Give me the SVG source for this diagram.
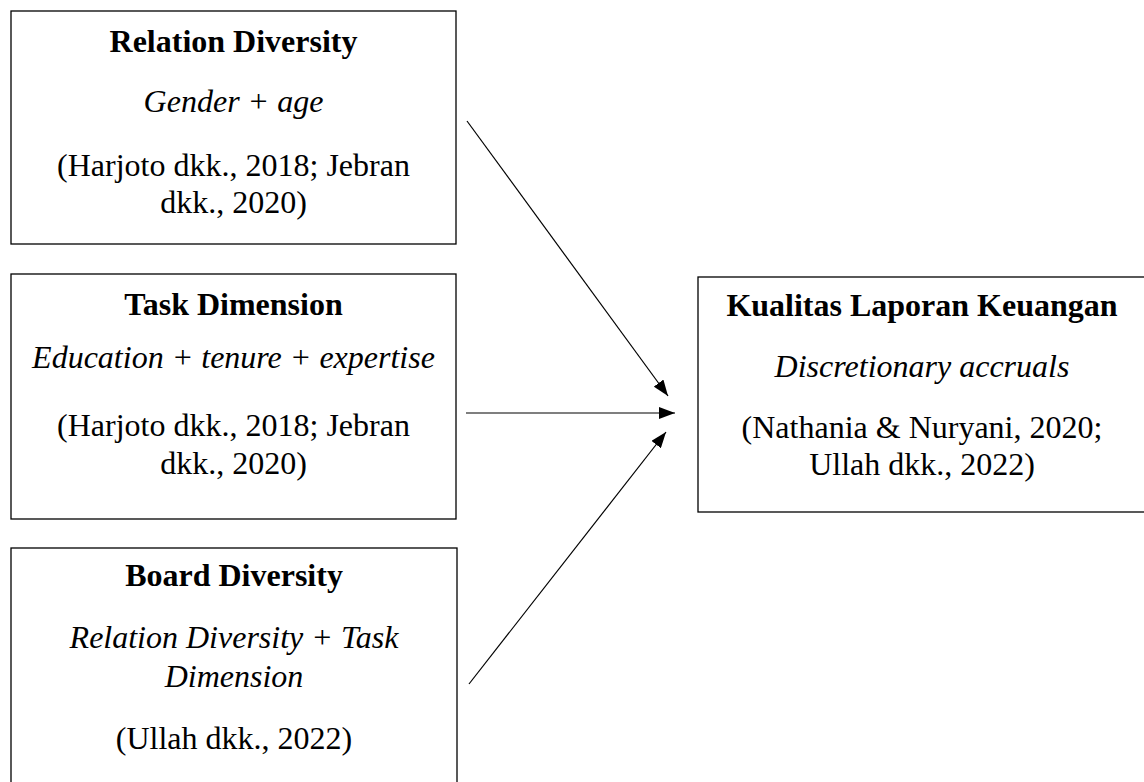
<svg xmlns="http://www.w3.org/2000/svg" width="1144" height="782" viewBox="0 0 1144 782">
<style>
.box{fill:#fff;stroke:#000;stroke-width:1.3}
.t{font-family:"Liberation Serif","Times New Roman",serif;font-size:32px;fill:#000;text-anchor:middle}
.b{font-weight:bold}
.i{font-style:italic}
.c{stroke:#000;stroke-width:1.2;fill:none;marker-end:url(#ah)}
</style>
<defs>
<marker id="ah" markerWidth="16" markerHeight="12" refX="16" refY="6" orient="auto" markerUnits="userSpaceOnUse">
<path d="M0,0 L16,6 L0,12 Z" fill="#000"/>
</marker>
</defs>
<g id="n1">
<rect class="box" x="11" y="11" width="445" height="233"/>
<text class="t b" x="233.5" y="52">Relation Diversity</text>
<text class="t i" x="233.5" y="112">Gender + age</text>
<text class="t" x="233.5" y="176">(Harjoto dkk., 2018; Jebran</text>
<text class="t" x="233.5" y="213">dkk., 2020)</text>
</g>
<g id="n2">
<rect class="box" x="11" y="274" width="445" height="245"/>
<text class="t b" x="233.5" y="315">Task Dimension</text>
<text class="t i" x="233.5" y="368">Education + tenure + expertise</text>
<text class="t" x="233.5" y="436">(Harjoto dkk., 2018; Jebran</text>
<text class="t" x="233.5" y="474">dkk., 2020)</text>
</g>
<g id="n3">
<rect class="box" x="11" y="548" width="446" height="260"/>
<text class="t b" x="234" y="586">Board Diversity</text>
<text class="t i" x="234" y="648">Relation Diversity + Task</text>
<text class="t i" x="234" y="687">Dimension</text>
<text class="t" x="234" y="749">(Ullah dkk., 2022)</text>
</g>
<g id="n4">
<rect class="box" x="698" y="277" width="450" height="235"/>
<text class="t b" x="922" y="316">Kualitas Laporan Keuangan</text>
<text class="t i" x="922" y="377">Discretionary accruals</text>
<text class="t" x="922" y="438">(Nathania &amp; Nuryani, 2020;</text>
<text class="t" x="922" y="475">Ullah dkk., 2022)</text>
</g>
<g id="connectors">
<line class="c" x1="467" y1="121" x2="668" y2="396"/>
<line class="c" x1="466" y1="413" x2="675" y2="413"/>
<line class="c" x1="469" y1="684" x2="666" y2="432"/>
</g>
</svg>
